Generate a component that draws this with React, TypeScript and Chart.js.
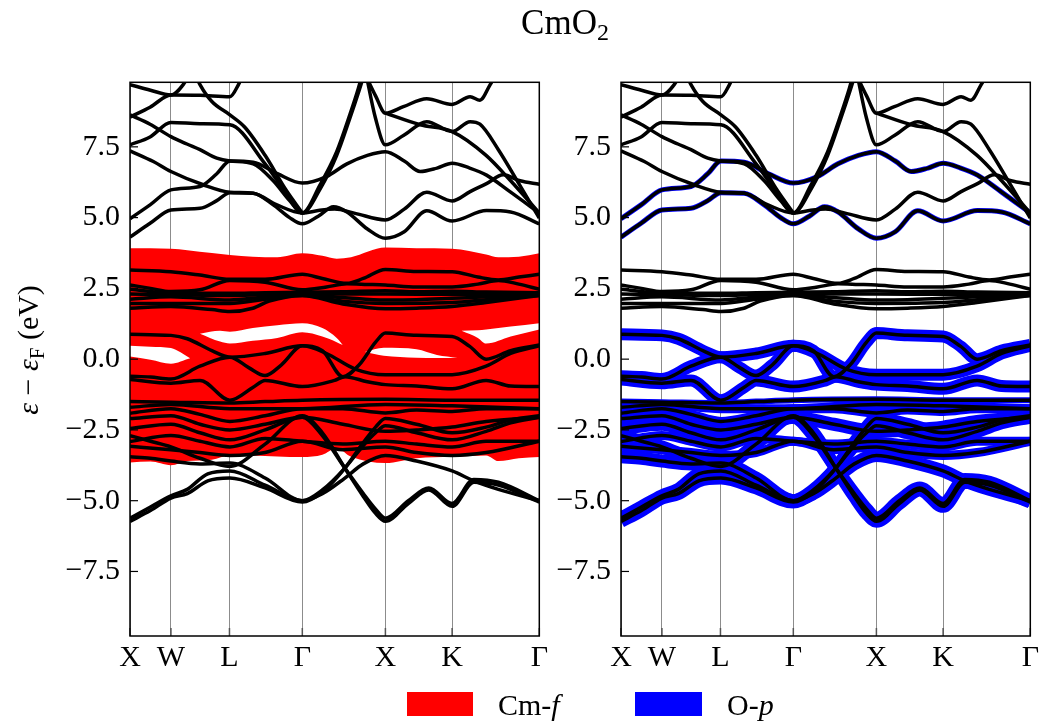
import { useEffect, useRef } from "react";
import { Chart, registerables } from "chart.js";

Chart.register(...registerables);

type Pt = [number, number];

// High-symmetry path
const kPositions = [0, 0.1, 0.243, 0.421, 0.624, 0.787, 1.0];
const kLabels = ["X", "W", "L", "Γ", "X", "K", "Γ"];
const energyTicks = [-7.5, -5, -2.5, 0, 2.5, 5, 7.5];
const energyMin = -9.78;
const energyMax = 9.78;

// Conduction bands (eV)
const conductionBands: Pt[][] = [
  [[0,4.31],[0.049,4.8],[0.1,5.27],[0.171,5.33],[0.212,5.6],[0.244,5.88],[0.301,5.86],[0.35,5.45],[0.39,5.0],[0.421,4.78],[0.46,5.05],[0.497,5.38],[0.53,5.2],[0.58,4.6],[0.624,4.27],[0.67,4.5],[0.725,5.24],[0.787,4.88],[0.871,5.25],[0.93,5.2],[1.0,4.78]],
  [[0,4.96],[0.049,5.45],[0.1,5.98],[0.171,6.1],[0.212,6.55],[0.244,7.0],[0.301,6.96],[0.36,6.55],[0.421,6.22],[0.48,6.45],[0.53,6.9],[0.58,7.2],[0.624,7.33],[0.67,7.0],[0.709,6.63],[0.75,6.75],[0.787,6.92],[0.83,6.75],[0.871,6.5],[0.93,5.9],[1.0,5.16]],
  [[0,7.36],[0.057,6.98],[0.1,6.63],[0.179,6.16],[0.244,5.9],[0.301,5.86],[0.359,5.45],[0.421,5.16],[0.464,6.15],[0.505,7.33],[0.537,8.63],[0.558,9.57],[0.57,10.2]],
  [[0,7.57],[0.049,7.85],[0.1,8.36],[0.171,8.32],[0.244,8.28],[0.33,6.9],[0.38,5.9],[0.421,5.16],[0.464,6.0],[0.505,7.2],[0.537,8.5],[0.56,9.5],[0.575,10.2]],
  [[0,8.63],[0.049,8.3],[0.1,7.86],[0.139,7.6],[0.171,7.4],[0.212,7.1],[0.244,7.0],[0.301,6.9],[0.35,6.3],[0.39,5.6],[0.421,5.16],[0.46,5.25],[0.5,5.3],[0.55,5.15],[0.624,4.92],[0.67,5.3],[0.725,5.9],[0.787,5.59],[0.831,5.92],[0.871,6.2],[0.912,6.51],[0.953,6.3],[1.0,6.18]],
  [[0,8.55],[0.049,8.9],[0.1,9.33],[0.171,9.32],[0.244,9.27],[0.265,9.7],[0.28,10.2]],
  [[0.155,10.2],[0.171,9.7],[0.2,9.1],[0.244,8.63],[0.28,8.2],[0.33,7.2],[0.38,6.0],[0.421,5.16]],
  [[0.57,10.2],[0.6,9.3],[0.624,8.69],[0.668,8.92],[0.725,9.2],[0.787,9.0],[0.831,9.27],[0.855,9.15],[0.88,9.7],[0.9,10.2]],
  [[0.575,10.2],[0.6,8.5],[0.624,7.57],[0.668,7.9],[0.725,8.39],[0.787,8.04],[0.831,8.39],[0.855,8.3],[0.9,7.4],[0.95,6.2],[1.0,4.98]],
  [[0.624,8.69],[0.709,8.28],[0.787,8.04],[0.87,7.2],[0.93,6.3],[1.0,5.16]],
  [[0,9.7],[0.05,9.5],[0.1,9.33],[0.13,9.7],[0.15,10.2]],
];

// Cm-f dominated bands (eV)
const cmFBands: Pt[][] = [
  [[0,3.15],[0.1,3.09],[0.171,2.97],[0.244,2.82],[0.33,2.82],[0.421,3.0],[0.47,2.85],[0.53,2.68],[0.57,2.85],[0.624,3.17],[0.7,3.1],[0.787,3.09],[0.85,2.9],[0.9,2.8],[0.95,2.9],[1.0,3.0]],
  [[0,2.62],[0.05,2.5],[0.1,2.39],[0.171,2.45],[0.244,2.78],[0.33,2.72],[0.421,2.45],[0.48,2.55],[0.53,2.66],[0.58,2.64],[0.624,2.62],[0.7,2.55],[0.787,2.55],[0.85,2.65],[0.9,2.78],[0.95,2.65],[1.0,2.47]],
  [[0,2.47],[0.1,2.33],[0.244,2.33],[0.33,2.35],[0.421,2.36],[0.52,2.38],[0.624,2.42],[0.7,2.38],[0.787,2.4],[0.87,2.37],[1.0,2.35]],
  [[0,2.3],[0.1,2.28],[0.244,2.25],[0.33,2.28],[0.421,2.3],[0.624,2.3],[0.787,2.29],[1.0,2.3]],
  [[0,2.12],[0.1,2.2],[0.244,2.09],[0.33,2.2],[0.421,2.27],[0.52,2.18],[0.624,2.09],[0.7,2.1],[0.787,2.15],[0.87,2.2],[1.0,2.27]],
  [[0,1.97],[0.1,1.97],[0.244,1.97],[0.33,2.12],[0.421,2.25],[0.52,2.05],[0.624,1.97],[0.787,2.0],[0.87,2.1],[1.0,2.25]],
  [[0,1.8],[0.1,1.86],[0.2,1.75],[0.244,1.68],[0.3,1.8],[0.34,2.05],[0.421,2.25],[0.52,1.95],[0.624,1.78],[0.7,1.8],[0.787,1.86],[0.87,2.0],[1.0,2.25]],
];

// Bands around the Fermi level (eV)
const fermiBands: Pt[][] = [
  [[0,0.88],[0.1,0.84],[0.14,0.72],[0.2,0.3],[0.244,0.07],[0.33,0.2],[0.421,0.47],[0.47,0.3],[0.52,-0.62],[0.56,-0.2],[0.6,0.6],[0.624,0.92],[0.7,0.84],[0.787,0.8],[0.83,0.45],[0.87,0.0],[0.93,0.3],[1.0,0.5]],
  [[0,-0.6],[0.05,-0.63],[0.1,-0.7],[0.171,-0.25],[0.244,0.07],[0.29,-0.3],[0.33,-0.58],[0.37,-0.2],[0.421,0.47],[0.48,0.2],[0.55,-0.35],[0.624,-0.55],[0.7,-0.55],[0.787,-0.55],[0.87,-0.25],[0.93,0.2],[1.0,0.47]],
  [[0,-0.72],[0.1,-0.85],[0.171,-0.75],[0.244,-1.45],[0.3,-1.0],[0.33,-0.75],[0.421,-0.97],[0.5,-0.75],[0.525,-0.62],[0.58,-0.8],[0.624,-0.9],[0.7,-0.95],[0.787,-1.05],[0.87,-0.75],[0.93,-0.95],[1.0,-0.97]],
  [[0,-1.5],[0.1,-1.52],[0.244,-1.55],[0.33,-1.5],[0.421,-1.45],[0.624,-1.42],[0.787,-1.45],[1.0,-1.45]],
];

// O-p dominated valence bands (eV)
const oxygenBands: Pt[][] = [
  [[0,-5.73],[0.05,-5.35],[0.1,-4.91],[0.14,-4.75],[0.19,-4.3],[0.244,-4.2],[0.33,-4.55],[0.421,-5.05],[0.47,-4.7],[0.525,-3.85],[0.57,-2.95],[0.6,-2.4],[0.624,-2.1],[0.7,-2.3],[0.787,-2.6],[0.87,-2.4],[0.93,-2.15],[1.0,-2.0]],
  [[0,-5.62],[0.05,-5.22],[0.1,-4.83],[0.14,-4.6],[0.19,-4.05],[0.244,-3.95],[0.33,-4.45],[0.421,-5.0],[0.47,-4.62],[0.525,-3.85],[0.57,-3.05],[0.6,-2.6],[0.624,-2.35],[0.7,-2.6],[0.787,-2.85],[0.87,-2.55],[0.93,-2.25],[1.0,-2.05]],
  [[0,-3.45],[0.05,-3.5],[0.1,-3.6],[0.171,-3.7],[0.244,-3.67],[0.33,-4.2],[0.421,-5.0],[0.47,-4.75],[0.525,-4.2],[0.57,-3.7],[0.624,-3.4],[0.7,-3.6],[0.787,-3.95],[0.84,-4.3],[0.9,-4.6],[1.0,-5.0]],
  [[0,-2.7],[0.05,-2.9],[0.1,-3.1],[0.171,-3.5],[0.244,-3.79],[0.33,-3.0],[0.421,-2.0],[0.47,-2.6],[0.525,-3.85],[0.57,-4.85],[0.6,-5.45],[0.624,-5.73],[0.68,-5.1],[0.73,-4.62],[0.787,-5.2],[0.84,-4.35],[0.9,-4.45],[1.0,-5.05]],
  [[0,-2.45],[0.1,-2.3],[0.171,-2.6],[0.244,-2.85],[0.33,-2.5],[0.421,-2.05],[0.47,-2.7],[0.525,-3.85],[0.57,-4.75],[0.6,-5.3],[0.624,-5.62],[0.68,-5.0],[0.73,-4.55],[0.787,-5.1],[0.84,-4.25],[0.9,-4.35],[1.0,-5.0]],
  [[0,-2.1],[0.1,-2.0],[0.171,-2.3],[0.244,-2.5],[0.33,-2.3],[0.421,-2.05],[0.52,-2.3],[0.624,-2.55],[0.7,-2.5],[0.787,-2.4],[0.87,-2.2],[1.0,-2.05]],
  [[0,-1.91],[0.1,-1.75],[0.171,-1.95],[0.244,-2.2],[0.33,-2.0],[0.421,-1.75],[0.52,-1.75],[0.624,-1.9],[0.7,-1.8],[0.787,-1.85],[0.87,-1.75],[1.0,-1.75]],
  [[0,-2.91],[0.1,-2.7],[0.171,-2.9],[0.244,-3.1],[0.33,-2.8],[0.421,-2.9],[0.52,-3.0],[0.624,-2.9],[0.7,-3.0],[0.787,-3.1],[0.87,-2.9],[1.0,-2.9]],
  [[0,-3.08],[0.1,-3.2],[0.171,-3.3],[0.244,-3.4],[0.33,-3.3],[0.421,-2.9],[0.52,-3.2],[0.624,-3.1],[0.7,-3.3],[0.787,-3.4],[0.87,-3.3],[1.0,-2.9]],
  [[0,-1.7],[0.1,-1.6],[0.244,-1.75],[0.421,-1.75],[0.624,-1.6],[0.787,-1.65],[1.0,-1.75]],
];

// Cm-f projection envelope (eV) and the unprojected holes inside it
const cmFEnvelopeX = [0,0.05,0.1,0.14,0.2,0.244,0.3,0.36,0.421,0.47,0.505,0.54,0.624,0.7,0.787,0.87,0.9,0.95,1.0];
const cmFEnvelopeTop = [3.92,3.92,3.9,3.85,3.75,3.68,3.62,3.6,3.74,3.65,3.55,3.6,3.94,3.92,3.9,3.7,3.6,3.62,3.74];
const cmFEnvelopeBottom = [-3.65,-3.62,-3.75,-3.6,-3.55,-3.4,-3.4,-3.44,-3.46,-3.38,-3.15,-3.45,-3.67,-3.5,-3.45,-3.4,-3.6,-3.5,-3.46];
const cmFHoleX: number[][] = [
  [0,0.05,0.1,0.147],
  [0.171,0.22,0.244,0.3,0.36,0.421,0.47,0.505,0.52],
  [0.574,0.62,0.7,0.75,0.8],
  [0.81,0.85,0.87,0.93,1.0],
];
const cmFHoleTop: number[][] = [
  [0.47,0.44,0.39,0.03],
  [0.9,1.0,0.97,1.1,1.2,1.27,1.1,0.75,0.5],
  [0.25,0.4,0.35,0.15,0.05],
  [1.0,1.02,1.05,1.15,1.27],
];
const cmFHoleBottom: number[][] = [
  [0.09,-0.02,-0.16,0.03],
  [0.9,0.62,0.55,0.65,0.75,0.95,0.8,0.6,0.5],
  [0.25,0.12,0.05,0.04,0.05],
  [1.0,0.75,0.55,0.8,1.05],
];

const SERIF = '"Liberation Serif", "DejaVu Serif", serif';

const toXY = (pts: Pt[]) => pts.map(([x, y]) => ({ x, y }));
const zip = (xs: number[], ys: number[]) => xs.map((x, i) => ({ x, y: ys[i] }));

function lineDs(data: { x: number; y: number }[], color: string, width: number, order: number) {
  return {
    data,
    borderColor: color,
    borderWidth: width,
    pointRadius: 0,
    fill: false,
    cubicInterpolationMode: "monotone" as const,
    clip: 0,
    order,
    borderJoinStyle: "round" as const,
    borderCapStyle: "butt" as const,
  };
}

function fillPair(top: { x: number; y: number }[], bottom: { x: number; y: number }[], color: string, order: number) {
  return [
    {
      data: top,
      borderColor: "rgba(0,0,0,0)",
      borderWidth: 1,
      backgroundColor: color,
      pointRadius: 0,
      fill: "+1",
      cubicInterpolationMode: "monotone" as const,
      clip: 0,
      order,
    },
    {
      data: bottom,
      borderColor: "rgba(0,0,0,0)",
      borderWidth: 1,
      pointRadius: 0,
      fill: false,
      cubicInterpolationMode: "monotone" as const,
      clip: 0,
      order,
    },
  ];
}

const framePlugin = {
  id: "bandFrame",
  afterDraw(chart: any) {
    const { ctx, chartArea: a, scales } = chart;
    ctx.save();
    ctx.strokeStyle = "#555";
    ctx.lineWidth = 1.5;
    kPositions.forEach((v) => {
      const x = scales.x.getPixelForValue(v);
      ctx.beginPath();
      ctx.moveTo(x, a.bottom);
      ctx.lineTo(x, a.bottom - 8);
      ctx.stroke();
    });
    ctx.strokeStyle = "#000";
    ctx.lineWidth = 1.2;
    energyTicks.forEach((v) => {
      const y = scales.y.getPixelForValue(v);
      ctx.beginPath();
      ctx.moveTo(a.left, y);
      ctx.lineTo(a.left + 8, y);
      ctx.stroke();
    });
    ctx.lineWidth = 1.5;
    ctx.strokeRect(a.left, a.top, a.right - a.left, a.bottom - a.top);
    ctx.restore();
  },
};

function makeConfig(side: "left" | "right"): any {
  const allBands = [...conductionBands, ...cmFBands, ...fermiBands, ...oxygenBands];
  const datasets: any[] = allBands.map((b) => lineDs(toXY(b), "#000", 3.5, 0));
  if (side === "left") {
    cmFHoleX.forEach((xs, i) => {
      datasets.push(...fillPair(zip(xs, cmFHoleTop[i]), zip(xs, cmFHoleBottom[i]), "#ffffff", 1));
    });
    datasets.push(...fillPair(zip(cmFEnvelopeX, cmFEnvelopeTop), zip(cmFEnvelopeX, cmFEnvelopeBottom), "#ff0000", 2));
  } else {
    oxygenBands.forEach((b, i) => datasets.push(lineDs(toXY(b), "#0000ff", i < 6 ? 13 : 9, 1)));
    fermiBands.forEach((b, i) => datasets.push(lineDs(toXY(b), "#0000ff", i === 3 ? 6 : 12, 1)));
    conductionBands.slice(0, 2).forEach((b) => datasets.push(lineDs(toXY(b), "#0000ff", 5, 1)));
  }
  const yWidth = side === "left" ? 130 : 81;
  return {
    type: "line",
    data: { datasets },
    options: {
      responsive: false,
      animation: false,
      events: [],
      layout: { padding: { top: 82.3, right: side === "left" ? 30.7 : 29.7, bottom: 0, left: 0 } },
      plugins: {
        legend: { display: false },
        tooltip: { enabled: false },
        title: { display: false },
        filler: { propagate: false },
      },
      scales: {
        x: {
          type: "linear",
          min: 0,
          max: 1,
          afterFit: (s: any) => {
            s.height = 89;
          },
          afterBuildTicks: (s: any) => {
            s.ticks = kPositions.map((v) => ({ value: v }));
          },
          ticks: {
            autoSkip: false,
            maxRotation: 0,
            padding: 4,
            color: "#000",
            font: { family: SERIF, size: 30 },
            callback: (_v: any, i: number) => kLabels[i],
          },
          grid: { color: "#8c8c8c", lineWidth: 1, drawTicks: false },
          border: { display: false },
        },
        y: {
          type: "linear",
          min: energyMin,
          max: energyMax,
          afterFit: (s: any) => {
            s.width = yWidth;
          },
          afterBuildTicks: (s: any) => {
            s.ticks = energyTicks.map((v) => ({ value: v }));
          },
          ticks: {
            padding: 10,
            color: "#000",
            font: { family: SERIF, size: 30 },
            callback: (v: number) => (v < 0 ? "\u2212" : "") + Math.abs(v).toFixed(1),
          },
          grid: { display: false, drawTicks: false },
          border: { display: false },
        },
      },
    },
    plugins: [framePlugin],
  };
}

export default function App() {
  const leftRef = useRef<HTMLCanvasElement>(null);
  const rightRef = useRef<HTMLCanvasElement>(null);

  useEffect(() => {
    const l = new Chart(leftRef.current as HTMLCanvasElement, makeConfig("left"));
    const r = new Chart(rightRef.current as HTMLCanvasElement, makeConfig("right"));
    return () => {
      l.destroy();
      r.destroy();
    };
  }, []);

  return (
    <div
      style={{
        position: "absolute",
        left: 0,
        top: 0,
        width: 1040,
        height: 725,
        overflow: "hidden",
        background: "#fff",
        fontFamily: SERIF,
        color: "#000",
      }}
    >
      <canvas ref={leftRef} width={570} height={725} style={{ position: "absolute", left: 0, top: 0 }} />
      <canvas ref={rightRef} width={520} height={725} style={{ position: "absolute", left: 540, top: 0 }} />
      <div
        style={{
          position: "absolute",
          left: 445,
          top: 5,
          width: 240,
          textAlign: "center",
          fontSize: 35,
          lineHeight: "35px",
          whiteSpace: "nowrap",
        }}
      >
        CmO<sub style={{ fontSize: 24, verticalAlign: "-6px", lineHeight: 0 }}>2</sub>
      </div>
      <div
        style={{
          position: "absolute",
          left: 28 - 100,
          top: 350 - 17,
          width: 200,
          height: 34,
          textAlign: "center",
          fontSize: 30,
          lineHeight: "34px",
          whiteSpace: "nowrap",
          transform: "rotate(-90deg)",
          transformOrigin: "50% 50%",
        }}
      >
        <i>ε</i> − <i>ε</i>
        <sub style={{ fontSize: 21, verticalAlign: "-6px", lineHeight: 0 }}>F</sub> (eV)
      </div>
      <div style={{ position: "absolute", left: 407, top: 692, width: 66, height: 24, background: "#ff0000" }} />
      <div style={{ position: "absolute", left: 498, top: 690, fontSize: 30, lineHeight: "30px", whiteSpace: "nowrap" }}>
        Cm-<i>f</i>
      </div>
      <div style={{ position: "absolute", left: 635, top: 692, width: 67, height: 24, background: "#0000ff" }} />
      <div style={{ position: "absolute", left: 727, top: 690, fontSize: 30, lineHeight: "30px", whiteSpace: "nowrap" }}>
        O-<i>p</i>
      </div>
    </div>
  );
}
